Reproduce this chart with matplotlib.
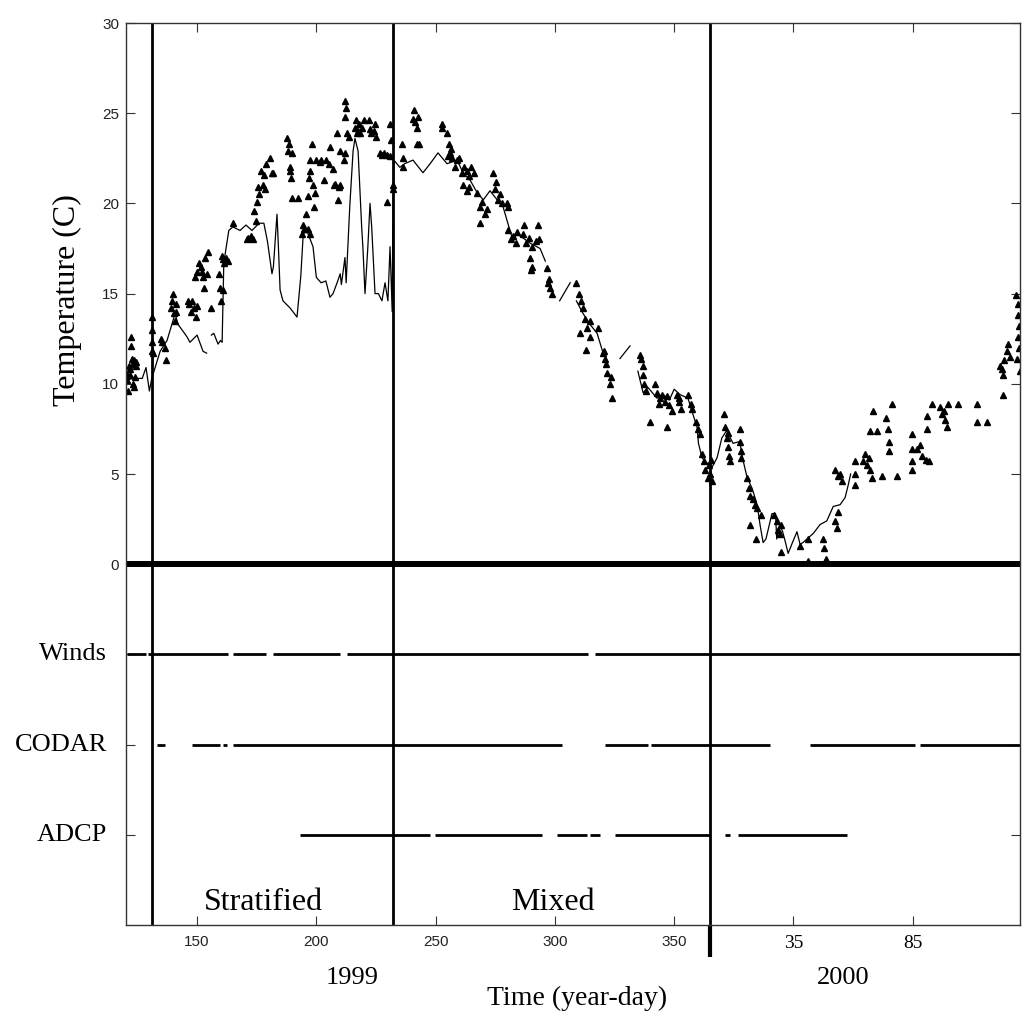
import numpy as np
import matplotlib
matplotlib.use("Agg")
import matplotlib.pyplot as plt

# ---- data (year-day, 2000 days continue as 365+day) ----
nan = np.nan

# continuous temperature record (thin line), NaN = gap
line_day = [120.5, 123, 127, 128.6, 130, 131, 134.5, 137.4, 140.8, 142, 145.8, 147, 150, 152.5, 154, nan,
            156, 157, 158.8, 159.8, 160.5, 161.2, 162.6, 163.3, 165, 168, 170.5, 173, 176, 178, 179.5,
            181.4, 182, 183.5, 184, 184.8, 186, 189, 191.9, 193.5, 194.5, 196, 198.6, 200, 202, 204,
            205.7, 207, 208.7, 210, 210.5, 212, 212.5, 214, 215.4, 216.2, 217.5, 219, 219.5, 220.4,
            221.6, 222.5, 223.2, 224.6, 226, 227.5, 228.8, 230, 230.9, 231.4, 231.8, 232,
            232.5, 235, 237, 240.5, 244.7, 247.7, 251, 254.8, 259, 261.5, 264.4, 267.4, 270, 272.8,
            275.8, 278.3, 281.2, 282.5, 284, 286.5, 289.6, 293.8, 296, nan,
            302, 306.4, nan, 309, 311.8, 314.7, 317.7, 320, nan, 327.3, 331.5, nan,
            334.8, 337, 339, 342.8, 345.5, 348, 350, 352.5, 355.8, 357.9, 359.6, 360.2, 361.7, 363.8,
            366, 368, 370, 372, 374.7, 377.5, 379, 380.6, 382.7, 384.8, 386, 387.3, 388.5, 391, 392.5,
            393, 394.2, 395.5, 396.5, 397.8, 399.3, 401.5, 402.8, 404, 405.7, 408.3, 411.2, 414,
            416.7, 419.6, 421.7, 423, 424]
line_temp = [10.2, 10.3, 10.3, 10.9, 9.6, 10.3, 11.8, 12.4, 13.9, 13.3, 12.6, 12.3, 12.7, 11.8, 11.7, nan,
             12.7, 12.8, 12.2, 12.4, 12.3, 16.7, 17.9, 18.5, 18.7, 18.5, 18.8, 18.5, 18.9, 18.9, 17.9,
             16.1, 16.5, 19.4, 17.9, 15.2, 14.6, 14.2, 13.7, 16.0, 18.3, 18.5, 17.6, 15.9, 15.6, 15.7,
             14.8, 15.0, 15.6, 16.1, 15.5, 17.0, 15.6, 19.8, 22.9, 23.6, 22.9, 18.7, 17.6, 15.0,
             17.6, 20.0, 18.7, 15.0, 15.0, 14.6, 15.6, 14.6, 17.6, 15.6, 14.0, 18.0,
             22.4, 22.0, 22.2, 22.4, 21.7, 22.2, 22.8, 22.2, 22.4, 21.7, 21.3, 20.6, 20.2, 20.7,
             20.2, 19.8, 18.5, 17.9, 18.3, 18.1, 17.8, 17.5, 16.8, nan,
             14.6, 15.6, nan, 14.6, 13.9, 13.3, 12.8, 11.8, nan, 11.4, 12.1, nan,
             10.7, 9.5, 9.8, 9.2, 9.4, 9.1, 9.7, 9.4, 9.2, 8.3, 7.6, 6.7, 5.9, 5.6,
             5.4, 5.9, 7.0, 7.4, 6.7, 6.8, 5.7, 4.8, 4.2, 3.3, 2.2, 1.2, 1.4, 2.8, 2.8,
             1.4, 2.2, 1.8, 1.3, 0.6, 1.1, 1.8, 1.1, 1.2, 1.4, 1.7, 2.2, 2.4,
             3.2, 3.3, 3.7, 4.4, 5.0]

# discrete surface temperature observations (dots)
obs_day = [120.3, 120.8, 121.2, 121.5, 122, 122.3, 122.5, 122.8, 123, 123.2, 123.5, 123.8, 124.2, 124.5, 123.6, 121.8,
           131, 131.2, 131, 131.3, 131.5,
           135, 135.5, 136.5, 137,
           139, 139.5, 140, 140.3, 140.6, 141, 141.2,
           146, 146.8, 147.5, 148, 148.5, 149.5, 150,
           149, 150, 151, 152, 153, 154, 152.5, 151.5, 153.5, 154.5,
           156,
           159, 159.5, 160, 160.3, 160.8, 161.2, 162, 163, 161,
           165,
           171, 172.5, 173.5, 174.5, 171.5,
           174, 175, 175.5, 176, 176.8, 177.5, 178.5,
           178, 179, 180.5, 181.5, 182,
           187.7, 188, 188.5, 189, 189.5, 188.8, 189.8,
           190, 192.5,
           194, 195, 195.5, 196.5, 197.5, 194.5,
           196.5, 197, 197.5, 198, 198.5, 199, 199.5, 197.2,
           200, 202, 204, 205.5, 203, 201.5,
           205.7,
           207, 208, 209, 209.5, 207.5, 210,
           208.5,
           210, 211.5, 212,
           212, 212.3, 212.2,
           213, 213.5,
           216, 216.5, 217, 218, 219, 220, 217.5, 218.5,
           222, 222.5, 223, 224, 225, 224.5,
           226.7, 227.5, 228.5, 229.6,
           229.6,
           231, 231.2, 231,
           232, 232.3,
           236, 236.3, 236.5,
           240.5, 241, 241.5, 242, 242.6,
           242, 243,
           252.6, 252.8,
           254.8, 255.5, 256, 257, 258, 259, 256.5, 255,
           260, 261, 262, 263, 264, 265, 266, 261.5, 263, 264,
           267.4, 268.5, 269.5, 270.5, 271.6, 268.6,
           274, 275, 276, 277, 278, 275.5,
           280, 280.5,
           280.4, 281.5, 282.5, 283.5, 284,
           286.6, 288, 289, 290.5, 292, 293.5, 287, 293,
           289.6, 290, 290.5,
           296.8, 297.5, 298, 298.8, 297,
           309, 310, 311, 311.8, 312.5, 313.5, 314.7,
           310.5, 314.7, 318, 313,
           320, 321, 320.5, 321.5, 322, 323, 323.5, 324,
           335.7, 336.2, 336.8, 337, 337.5, 338,
           340,
           342, 343, 344, 345, 346, 347, 348, 349, 343.5,
           347,
           351, 352, 353, 352,
           356, 357, 357.5,
           359, 360, 361,
           361.7, 362.5, 363, 364, 364.5, 365, 366, 365.5,
           371, 371.5, 372, 372.5, 373, 373.5, 372.5,
           377.6, 377.8, 378, 378,
           380.6, 381.5, 382, 383, 384, 384.8, 382, 384.5, 386.5,
           392, 393, 393.5, 394.5, 395,
           395, 402.8, 406, 406,
           412.6, 413, 413.5,
           417.5, 418.3, 418.5,
           417.5, 418.5, 419.5, 420.4,
           425.8, 425.8, 425.8,
           429.2, 430, 431, 432, 433, 431.5,
           432, 433.4, 435, 437,
           439, 439.5, 440, 440,
           441.4, 443.5,
           449.8, 449.8, 449.8, 449.8,
           452, 454, 455.5, 457, 453,
           456, 456,
           458,
           461.5, 462.5, 463.5, 464.5, 463,
           465, 469,
           477, 477, 481,
           486.5, 487.5, 488.5, 489.5, 490, 491, 488,
           488,
           493.5, 494, 494.3, 494.6, 494, 494.5, 493.8, 494.8]
obs_temp = [10.6, 10.2, 9.6, 11.0, 10.5, 12.6, 12.1, 11.4, 11.1, 10.0, 9.8, 10.4, 11.2, 11.0, 11.3, 10.8,
            13.7, 13.0, 12.3, 11.8, 11.7,
            12.5, 12.3, 12.0, 11.3,
            14.2, 14.6, 15.0, 13.9, 13.5, 14.0, 14.4,
            14.6, 14.4, 14.0, 14.6, 14.2, 13.7, 14.3,
            15.9, 16.2, 16.7, 16.2, 15.3, 16.1, 15.9, 16.5, 17.0, 17.3,
            14.2,
            16.1, 15.3, 14.6, 17.1, 16.9, 16.7, 17.0, 16.8, 15.2,
            18.9,
            18.0, 18.2, 18.0, 19.0, 18.1,
            19.6, 20.1, 20.9, 20.5, 21.8, 21.0, 20.8,
            21.6, 22.2, 22.5, 21.7, 21.7,
            23.6, 22.9, 23.3, 21.8, 21.4, 22.0, 22.8,
            20.3, 20.3,
            18.3, 18.6, 19.4, 18.6, 18.3, 18.8,
            20.4, 21.4, 22.4, 23.3, 21.0, 19.8, 20.6, 21.8,
            22.4, 22.4, 22.4, 22.2, 21.3, 22.3,
            23.1,
            21.9, 21.1, 20.2, 20.9, 21.0, 21.0,
            23.9,
            22.9, 22.4, 22.8,
            25.7, 25.3, 24.8,
            23.9, 23.7,
            24.2, 24.6, 23.9, 24.4, 24.2, 24.6, 24.0, 23.9,
            24.6, 24.1, 23.9, 24.0, 23.7, 24.4,
            22.8, 22.7, 22.8, 22.7,
            20.1,
            24.4, 23.5, 22.6,
            21.0, 20.8,
            23.3, 22.5, 22.0,
            24.7, 25.2, 24.5, 24.2, 24.8,
            23.3, 23.3,
            24.4, 24.2,
            23.9, 23.3, 22.8, 22.5, 22.0, 22.4, 23.0, 22.6,
            22.5, 21.7, 22.0, 21.8, 21.5, 22.0, 21.7, 21.0, 20.7, 20.9,
            20.6, 19.8, 20.1, 19.4, 19.7, 18.9,
            21.7, 20.8, 20.2, 20.5, 20.0, 21.2,
            20.0, 19.8,
            18.5, 18.0, 18.2, 17.8, 18.4,
            18.3, 17.8, 18.1, 17.6, 17.9, 18.0, 18.8, 18.8,
            17.0, 16.3, 16.5,
            16.4, 15.8, 15.3, 15.0, 15.6,
            15.6, 15.0, 14.6, 14.2, 13.6, 13.1, 13.5,
            12.8, 12.6, 13.1, 11.9,
            11.7, 11.4, 11.8, 11.1, 10.6, 10.0, 10.4, 9.2,
            11.6, 11.4, 11.0, 10.5, 10.0, 9.6,
            7.9,
            10.0, 9.5, 9.2, 9.4, 9.0, 9.3, 8.8, 8.5, 8.9,
            7.6,
            9.4, 9.2, 8.6, 9.0,
            9.4, 8.9, 8.6,
            7.9, 7.5, 7.2,
            6.1, 5.7, 5.2, 4.8, 5.5, 5.0, 4.6, 5.8,
            8.3, 7.6, 7.0, 6.5, 6.0, 5.7, 7.3,
            7.5, 6.8, 6.3, 5.9,
            4.8, 4.2, 3.8, 3.6, 3.3, 3.1, 2.2, 1.4, 2.7,
            2.7, 2.4, 1.9, 1.7, 2.2,
            0.7, 1.0, 1.4, 0.2,
            1.4, 0.9, 0.3,
            2.4, 2.0, 2.9,
            5.2, 4.9, 5.0, 4.6,
            5.7, 5.0, 4.4,
            5.7, 6.1, 5.5, 5.2, 4.8, 5.9,
            7.4, 8.5, 7.4, 4.9,
            8.1, 7.5, 6.8, 6.3,
            8.9, 4.9,
            7.2, 6.4, 5.7, 5.2,
            6.4, 6.0, 5.8, 5.7, 6.6,
            8.2, 7.5,
            8.9,
            8.7, 8.3, 8.0, 7.6, 8.5,
            8.9, 8.9,
            8.9, 7.9, 7.9,
            11.0, 10.8, 11.3, 11.8, 12.2, 11.5, 10.5,
            9.4,
            14.9, 14.4, 13.8, 13.2, 12.6, 12.0, 11.4, 10.7]

# data availability (start, end) in year-day
winds_start = [120.5, 129.5, 165, 182, 213, 317]
winds_end = [128.5, 163, 179, 210, 314, 495]
codar_start = [133, 147.7, 161, 165.2, 321, 340.3, 407, 453]
codar_end = [136.5, 159.6, 162.7, 303, 339, 390, 451, 495]
adcp_start = [193, 249.8, 300.8, 314.8, 325.2, 371.4, 376.8]
adcp_end = [247.7, 294.5, 313.4, 319, 365, 373.5, 422.5]

instruments = ['Winds', 'CODAR', 'ADCP']
instrument_levels = [-5, -10, -15]
regime_days = [131, 232, 365]
xtick_pos = [150, 200, 250, 300, 350, 400, 450]
xtick_labels = ['150', '200', '250', '300', '350', '35', '85']
ytick_pos = [0, 5, 10, 15, 20, 25, 30]

serif = 'Liberation Serif'
sans = 'Liberation Sans'

fig = plt.figure(figsize=(10.29, 10.25), dpi=100)
ax = fig.add_axes([0.12245, 0.09756, 0.8688, 0.88])

# temperature line and observations
ax.plot(line_day, line_temp, color='k', lw=0.9)
ax.plot(obs_day, obs_temp, linestyle='none', marker='^', ms=5, color='k')

# zero line and regime boundaries
ax.axhline(0, color='k', lw=4.3)
for d in regime_days:
    ax.axvline(d, color='k', lw=2)
ax.plot([365, 365], [-20, -21.8], color='k', lw=3, clip_on=False, solid_capstyle='butt')

# availability bars
for lev, starts, ends in zip(instrument_levels,
                             [winds_start, codar_start, adcp_start],
                             [winds_end, codar_end, adcp_end]):
    ax.hlines([lev] * len(starts), starts, ends, color='k', lw=2)

ax.set_xlim(120.2, 495)
ax.set_ylim(-20, 30)

ax.set_xticks(xtick_pos)
ax.set_xticklabels(xtick_labels, fontsize=11, family=sans, color='#222222')
for lbl in ax.get_xticklabels()[5:]:
    lbl.set_fontfamily(serif)
    lbl.set_fontsize(14)
    lbl.set_color('k')
ax.set_yticks(instrument_levels[::-1] + ytick_pos)
ax.set_yticklabels([''] * 3 + [str(v) for v in ytick_pos], fontsize=11, family=sans, color='#222222')
ax.tick_params(direction='in', length=6.5, width=0.8, color='#333333', top=True, right=True)
ax.tick_params(axis='x', pad=7)
ax.tick_params(axis='y', pad=5)
for s in ax.spines.values():
    s.set_linewidth(1.0)
    s.set_color('#333333')

for name, lev in zip(instruments, instrument_levels):
    ax.text(-0.0213, lev, name, transform=ax.get_yaxis_transform(), ha='right', va='center',
            fontsize=19, family=serif)

ax.text(178, -19.15, 'Stratified', ha='center', va='baseline', fontsize=23, family=serif)
ax.text(299.2, -19.15, 'Mixed', ha='center', va='baseline', fontsize=23, family=serif)

fig.text(67 / 1029, 1 - 300 / 1025, 'Temperature (C)', rotation=90, ha='center', va='center',
         fontsize=23, family=serif)
fig.text(352.5 / 1029, 1 - 984 / 1025, '1999', ha='center', va='baseline', fontsize=19, family=serif)
fig.text(843 / 1029, 1 - 984 / 1025, '2000', ha='center', va='baseline', fontsize=19, family=serif)
fig.text(577.5 / 1029, 1 - 1005 / 1025, 'Time (year-day)', ha='center', va='baseline',
         fontsize=20, family=serif)

fig.savefig('out.png', dpi=100)
